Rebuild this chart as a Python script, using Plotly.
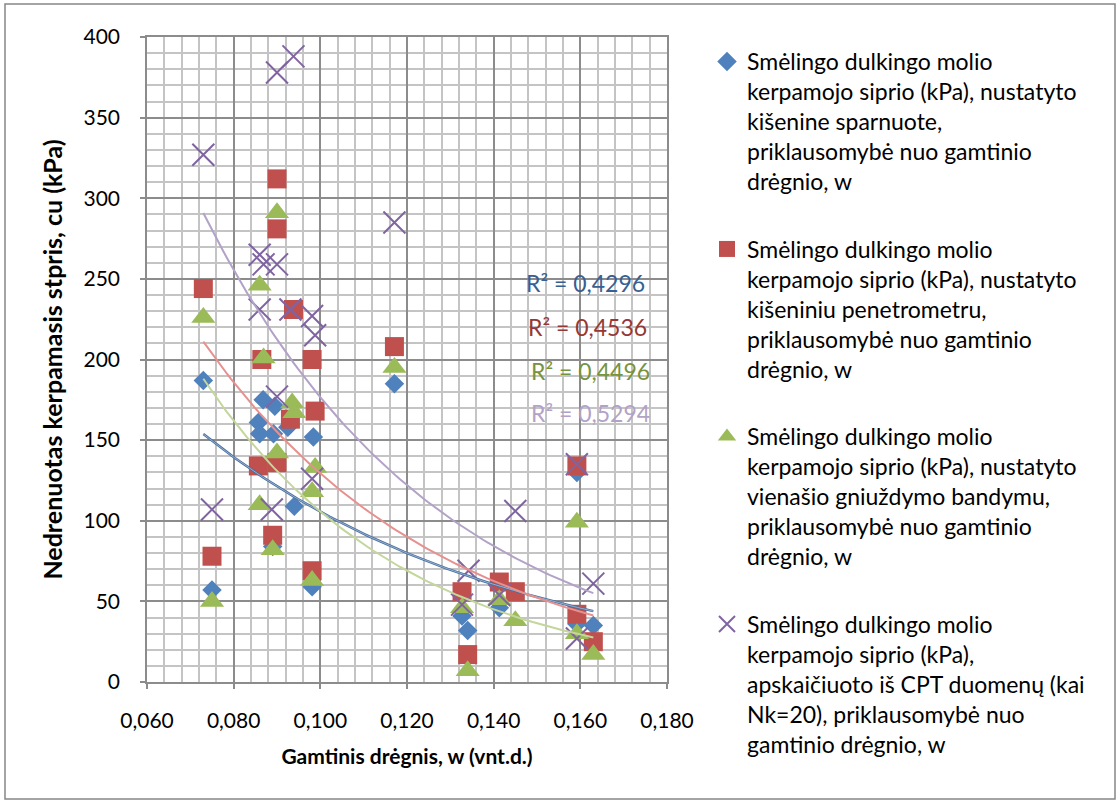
import numpy as np
import plotly.graph_objects as go

# ---- data ----
w_sparnuote = [0.0730, 0.0750, 0.0857, 0.0860, 0.0868, 0.0895, 0.0892, 0.0925, 0.0890, 0.0940,
               0.0984, 0.0981, 0.1171, 0.1327, 0.1340, 0.1413, 0.1592, 0.1592, 0.1630]
cu_sparnuote = [187, 57, 161, 154, 175, 171, 154, 158, 84, 109,
                152, 59, 185, 41, 32, 46, 130, 36, 35]

w_penetrometras = [0.0730, 0.0750, 0.0865, 0.0857, 0.0900, 0.0900, 0.0900, 0.0890, 0.0938, 0.0931,
                   0.0981, 0.0988, 0.0981, 0.1171, 0.1327, 0.1340, 0.1413, 0.1450, 0.1592, 0.1592, 0.1630]
cu_penetrometras = [244, 78, 200, 134, 312, 281, 136, 91, 231, 163,
                    200, 168, 69, 208, 56, 17, 62, 56, 134, 42, 25]

w_gniuzdymas = [0.0730, 0.0750, 0.0860, 0.0869, 0.0860, 0.0900, 0.0900, 0.0890, 0.0935, 0.0940,
                0.0988, 0.0981, 0.0981, 0.1171, 0.1327, 0.1340, 0.1413, 0.1450, 0.1592, 0.1592, 0.1630]
cu_gniuzdymas = [226, 50, 246, 201, 110, 291, 142, 82, 173, 167,
                 133, 118, 63, 195, 46, 7, 51, 38, 99, 30, 17]

w_cpt = [0.0730, 0.0750, 0.0860, 0.0869, 0.0900, 0.0860, 0.0900, 0.0938, 0.0931, 0.0900, 0.0888,
         0.0981, 0.0988, 0.0981, 0.1171, 0.1342, 0.1327, 0.1413, 0.1450, 0.1592, 0.1592, 0.1630]
cu_cpt = [327, 107, 265, 259, 259, 231, 378, 388, 231, 177, 107,
          227, 215, 126, 285, 69, 48, 54, 106, 135, 27, 61]

names = [
    "Smėlingo dulkingo molio<br>kerpamojo siprio (kPa), nustatyto<br>kišenine sparnuote,<br>priklausomybė nuo gamtinio<br>drėgnio, w",
    "Smėlingo dulkingo molio<br>kerpamojo siprio (kPa), nustatyto<br>kišeniniu penetrometru,<br>priklausomybė nuo gamtinio<br>drėgnio, w",
    "Smėlingo dulkingo molio<br>kerpamojo siprio (kPa), nustatyto<br>vienašio gniuždymo bandymu,<br>priklausomybė nuo gamtinio<br>drėgnio, w",
    "Smėlingo dulkingo molio<br>kerpamojo siprio (kPa),<br>apskaičiuoto iš CPT duomenų (kai<br>Nk=20), priklausomybė nuo<br>gamtinio drėgnio, w",
]
r2_labels = ["R² = 0,4296", "R² = 0,4536", "R² = 0,4496", "R² = 0,5294"]

xs = [w_sparnuote, w_penetrometras, w_gniuzdymas, w_cpt]
ys = [cu_sparnuote, cu_penetrometras, cu_gniuzdymas, cu_cpt]
marker_colors = ["#4F81BD", "#C0504D", "#9BBB59", "#8064A2"]
symbols = ["diamond", "square", "triangle-up", "x-thin"]
sizes = [15, 19, 21, 22]
trend_colors = ["#4A7EBB", "#E6918F", "#C3D69B", "#B3A2C7"]
label_colors = ["#376092", "#953735", "#77933C", "#B3A2C7"]

FONT = "Lato, Carlito, 'Open Sans', sans-serif"

fig = go.Figure()
for i in range(4):
    if symbols[i] == "x-thin":
        marker = dict(symbol="x-thin", size=sizes[i], color=marker_colors[i],
                      line=dict(color=marker_colors[i], width=2))
    else:
        marker = dict(symbol=symbols[i], size=sizes[i], color=marker_colors[i],
                      line=dict(width=0))
    fig.add_trace(go.Scatter(x=xs[i], y=ys[i], mode="markers", name=names[i],
                             marker=marker, legendgroup=f"g{i}"))

# exponential trendlines (least squares on ln y), as in the spreadsheet
for i in range(4):
    x = np.array(xs[i], dtype=float)
    y = np.array(ys[i], dtype=float)
    b, ln_a = np.polyfit(x, np.log(y), 1)
    xx = np.linspace(x.min(), x.max(), 100)
    yy = np.exp(ln_a) * np.exp(b * xx)
    if i == 0:
        fig.add_trace(go.Scatter(x=xx, y=yy, mode="lines", showlegend=False, hoverinfo="skip",
                                 line=dict(color="#4A6F9E", width=2.5)))
        fig.add_trace(go.Scatter(x=xx, y=yy, mode="lines", showlegend=False, hoverinfo="skip",
                                 line=dict(color="#A7C0DE", width=0.8)))
    else:
        fig.add_trace(go.Scatter(x=xx, y=yy, mode="lines", showlegend=False, hoverinfo="skip",
                                 line=dict(color=trend_colors[i], width=2)))

# R² labels
r2_pos = [(0.1612, 247.7), (0.1617, 220.4), (0.1623, 193.1), (0.1623, 167.1)]
for i in range(4):
    fig.add_annotation(x=r2_pos[i][0], y=r2_pos[i][1], xref="x", yref="y", text=r2_labels[i],
                       showarrow=False, xanchor="center", yanchor="middle",
                       font=dict(family=FONT, size=23, color=label_colors[i]))

L, R, T, B = 147, 453, 37, 121
W, H = 1120, 803
pw, ph = W - L - R, H - T - B


def px_to_paper(px, py):
    return (px - L) / pw, (H - B - py) / ph


x0, y0 = px_to_paper(5, 799)
x1, y1 = px_to_paper(1115, 4)
fig.add_shape(type="rect", xref="paper", yref="paper", x0=x0, y0=y0, x1=x1, y1=y1,
              line=dict(color="#868686", width=1.5), fillcolor="rgba(0,0,0,0)", layer="below")

axis_common = dict(
    showgrid=True, gridcolor="#8C8C8C", gridwidth=1.5,
    showline=True, linecolor="#8C8C8C", linewidth=1.5, mirror=True,
    ticks="outside", ticklen=5, tickcolor="#8C8C8C", tickwidth=1.5,
    zeroline=False,
)

fig.update_layout(
    width=W, height=H,
    margin=dict(l=L, r=R, t=T, b=B, autoexpand=False),
    paper_bgcolor="white", plot_bgcolor="white",
    separators=", ",
    font=dict(family=FONT, color="black"),
    xaxis=dict(range=[0.06, 0.18], dtick=0.02, tick0=0.06, tickformat=".3f",
               tickfont=dict(family=FONT, size=21, color="black"), ticklabelstandoff=14,
               minor=dict(dtick=0.004, showgrid=True, gridcolor="#C4C4C4", gridwidth=1.5),
               title=dict(text="<b>Gamtinis drėgnis, w (vnt.d.)</b>",
                          font=dict(family=FONT, size=21, color="black"), standoff=18),
               **axis_common),
    yaxis=dict(range=[0, 400], dtick=50, tick0=0,
               tickfont=dict(family=FONT, size=21, color="black"), ticklabelstandoff=16,
               minor=dict(dtick=10, showgrid=True, gridcolor="#C4C4C4", gridwidth=1.5),
               title=dict(text="<b>Nedrenuotas kerpamasis stpris, cu (kPa)</b>",
                          font=dict(family=FONT, size=25, color="black"), standoff=14),
               **axis_common),
    legend=dict(x=(707 - L) / pw, xanchor="left", y=px_to_paper(0, 40)[1], yanchor="top",
                font=dict(family=FONT, size=23, color="black"), valign="top",
                tracegroupgap=35, bgcolor="rgba(0,0,0,0)", maxheight=790),
    showlegend=True,
)

fig.write_html("out.html")
